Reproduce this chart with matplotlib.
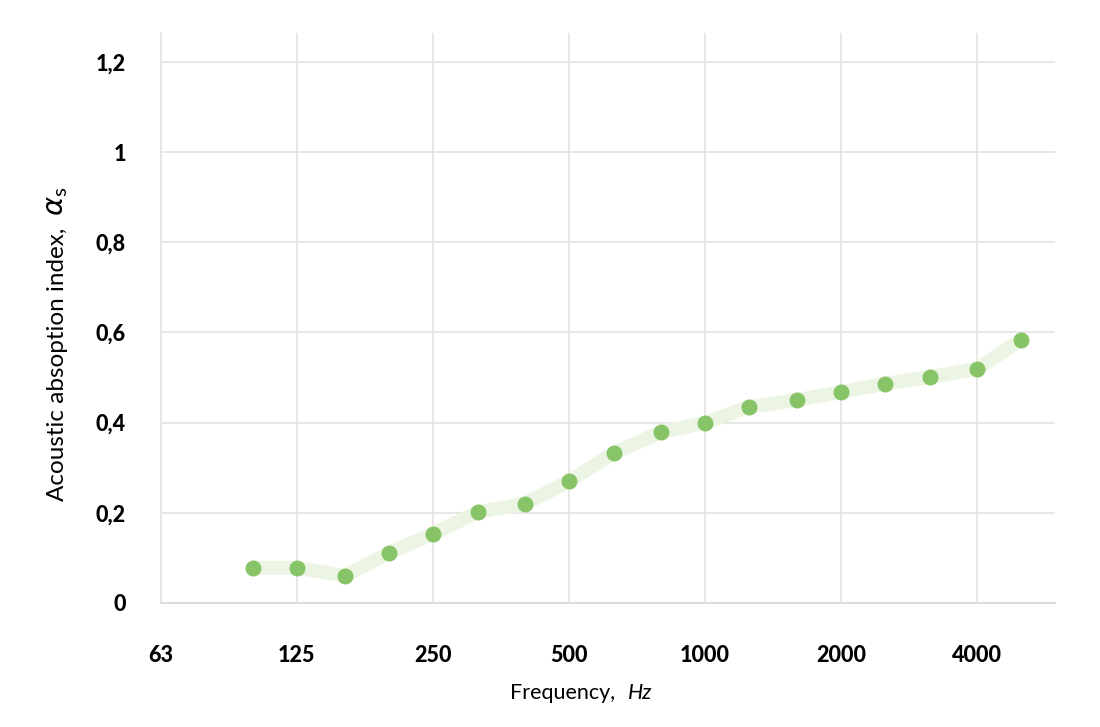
import numpy as np
import matplotlib
matplotlib.use('Agg')
import matplotlib.pyplot as plt

# third-octave band centres and measured absorption
freqs = [100, 125, 160, 200, 250, 315, 400, 500, 630, 800,
         1000, 1250, 1600, 2000, 2500, 3150, 4000, 5000]
alpha = [0.078, 0.078, 0.060, 0.111, 0.153, 0.202, 0.220, 0.270, 0.333, 0.379,
         0.399, 0.435, 0.450, 0.468, 0.486, 0.501, 0.519, 0.583]

xtick_pos = [62.5, 125, 250, 500, 1000, 2000, 4000]
xtick_labels = ['63', '125', '250', '500', '1000', '2000', '4000']
ytick_pos = [0, 0.2, 0.4, 0.6, 0.8, 1.0, 1.2]
ytick_labels = ['0', '0,2', '0,4', '0,6', '0,8', '1', '1,2']

plt.rcParams['font.family'] = ['Lato', 'DejaVu Sans']

fig = plt.figure(figsize=(11, 7.27), dpi=100)
ax = fig.add_axes([0.146, 0.1706, 0.813, 0.784])

ax.plot(freqs, alpha, color='#ecf5e4', lw=10, solid_capstyle='butt', zorder=2)
ax.plot(freqs, alpha, 'o', color='#86c467', ms=11.5, mec='none', zorder=3)

ax.set_xscale('log', base=2)
ax.set_xlim(62.5, 5950)
ax.set_ylim(0, 1.264)
ax.set_xticks(xtick_pos)
ax.set_xticklabels(xtick_labels)
ax.set_yticks(ytick_pos)
ax.set_yticklabels(ytick_labels)
ax.minorticks_off()
ax.tick_params(length=0, labelsize=15.5)
ax.tick_params(axis='x', pad=30)
ax.tick_params(axis='y', pad=25)
for lab in ax.get_xticklabels() + ax.get_yticklabels():
    lab.set_fontweight(900)

ax.grid(True, color='#e3e3e3', lw=1.2)
ax.set_axisbelow(True)
for s in ['top', 'right']:
    ax.spines[s].set_visible(False)
ax.spines['left'].set_color('#e3e3e3')
ax.spines['bottom'].set_color('#dcdcdc')
ax.spines['left'].set_linewidth(1.2)
ax.spines['bottom'].set_linewidth(1.5)

# axis titles
fig.text(57 / 1100, 1 - 364 / 727, 'Acoustic absoption index,', rotation=90,
         ha='center', va='center', fontsize=17.5)
fig.text(57 / 1100, 1 - 201 / 727, r'$\alpha_\mathregular{s}$', rotation=90,
         ha='center', va='center', fontsize=21)
fig.text(510 / 1100, 1 - 693 / 727, 'Frequency,', ha='left',
         va='center', fontsize=15.5)
fig.text(628 / 1100, 1 - 693 / 727, 'Hz', ha='left', va='center',
         fontsize=15.5, style='italic')

fig.savefig('out.png', dpi=100)
